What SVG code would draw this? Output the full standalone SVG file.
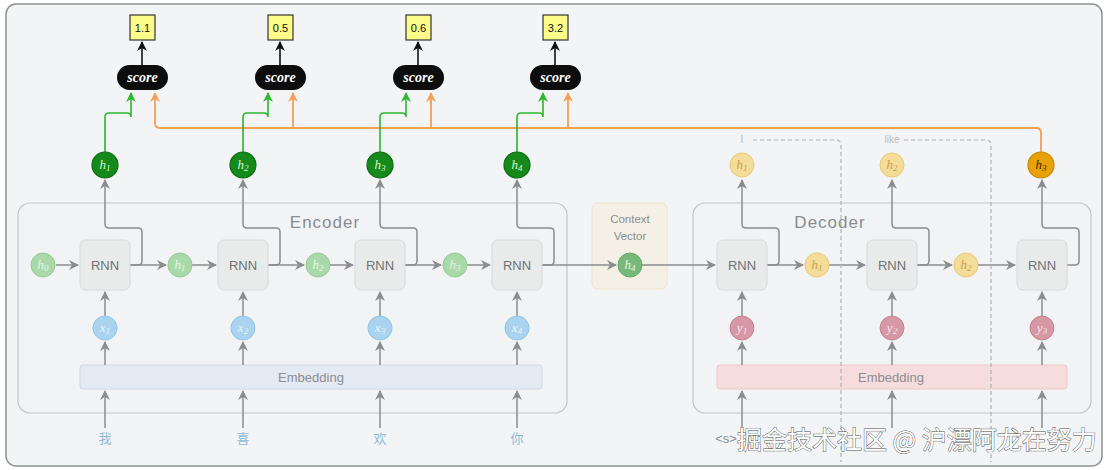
<svg xmlns="http://www.w3.org/2000/svg" width="1108" height="470" viewBox="0 0 1108 470">
<defs>
<marker id="ag" markerUnits="userSpaceOnUse" markerWidth="12" markerHeight="12" refX="9" refY="5" orient="auto"><path d="M0,0 L10,5 L0,10 L3,5 z" fill="#8a8c8e"/></marker>
<marker id="agr" markerUnits="userSpaceOnUse" markerWidth="12" markerHeight="12" refX="9" refY="5" orient="auto"><path d="M0,0 L10,5 L0,10 L3,5 z" fill="#2fb52f"/></marker>
<marker id="aor" markerUnits="userSpaceOnUse" markerWidth="12" markerHeight="12" refX="9" refY="5" orient="auto"><path d="M0,0 L10,5 L0,10 L3,5 z" fill="#f2a055"/></marker>
<marker id="abk" markerUnits="userSpaceOnUse" markerWidth="12" markerHeight="12" refX="9" refY="5" orient="auto"><path d="M0,0 L10,5 L0,10 L3,5 z" fill="#111"/></marker>
<style>
.frame{fill:#f3f4f5;stroke:#8e9193;stroke-width:1.5}
.box{fill:#f1f3f4;stroke:#c3c7ca;stroke-width:1.2}
.lbl{font-family:"Liberation Sans",Arial,sans-serif;fill:#8a8d90}
.rnn{fill:#e8ebea;stroke:#d6dad8;stroke-width:1}
.rnnt{font-family:"Liberation Sans",Arial,sans-serif;font-size:13px;fill:#6f7274;text-anchor:middle}
.ht{font-family:"Liberation Serif","Times New Roman",serif;font-style:italic;font-size:13px;text-anchor:middle}
.hlg{fill:#a9d9a9;stroke:#95cc95;stroke-width:1}
.hdg{fill:#15891a;stroke:#0c6c10;stroke-width:1.2}
.hlo{fill:#f4dc9a;stroke:#ebc875;stroke-width:1}
.hdo{fill:#e9a108;stroke:#c98700;stroke-width:1.2}
.xb{fill:#a9d3ee;stroke:#91c5e5;stroke-width:1}
.yp{fill:#d697a6;stroke:#c98595;stroke-width:1}
.con{fill:none;stroke:#8a8c8e;stroke-width:1.5}
.gr{fill:none;stroke:#2fb52f;stroke-width:1.6}
.or{fill:none;stroke:#f2a055;stroke-width:1.8}
.bk{fill:none;stroke:#111;stroke-width:1.6}
.dash{fill:none;stroke:#adb0b3;stroke-width:1.2;stroke-dasharray:4 3}
.val{fill:#fbfb8a;stroke:#333;stroke-width:1.2}
.valt{font-family:"Liberation Sans",Arial,sans-serif;font-size:11px;fill:#111;text-anchor:middle}
.sc{fill:#0d0d0d}
.sct{font-family:"Liberation Serif","Times New Roman",serif;font-style:italic;font-weight:bold;font-size:14px;fill:#fff;text-anchor:middle}
.word{font-family:"Noto Sans CJK SC","Noto Sans",sans-serif;font-size:13px;fill:#8cbcd9;text-anchor:middle}
</style>
</defs>
<rect x="0" y="0" width="1108" height="470" fill="#ffffff"/>
<rect class="frame" x="6" y="4" width="1096" height="462" rx="10"/>

<g id="encoder"><rect class="box" x="18" y="203" width="549" height="210" rx="12"/><text class="lbl" x="325" y="228" font-size="17" text-anchor="middle" letter-spacing="1">Encoder</text></g>
<g id="context"><rect x="592" y="203" width="75" height="86" rx="6" fill="#f5f0e5" stroke="#ece3cf"/><text class="lbl" x="630" y="223" font-size="11.5" text-anchor="middle">Context</text><text class="lbl" x="630" y="240" font-size="11.5" text-anchor="middle">Vector</text></g>
<g id="decoder"><rect class="box" x="693" y="203" width="398" height="210" rx="12"/><text class="lbl" x="830" y="228" font-size="17" text-anchor="middle" letter-spacing="1">Decoder</text></g>

<g id="enc-embedding"><rect x="80" y="365" width="462" height="24" rx="3" fill="#e4eaf3" stroke="#cfd8e5"/><text class="lbl" x="311" y="382" font-size="13" text-anchor="middle">Embedding</text></g>
<g id="dec-embedding"><rect x="717" y="365" width="350" height="24" rx="3" fill="#f6dcdc" stroke="#efc9c9"/><text class="lbl" x="891" y="382" font-size="13" text-anchor="middle">Embedding</text></g>

<g id="connectors">
<path class="con" d="M56,265 H78" marker-end="url(#ag)"/>
<path class="con" d="M130,265 H166" marker-end="url(#ag)"/>
<path class="con" d="M130,265 H138 Q142,265 142,261 V232 Q142,228 138,228 H109 Q105,228 105,224 V180" marker-end="url(#ag)"/>
<path class="con" d="M192,265 H216" marker-end="url(#ag)"/>
<path class="con" d="M268,265 H304" marker-end="url(#ag)"/>
<path class="con" d="M268,265 H276 Q280,265 280,261 V232 Q280,228 276,228 H247 Q243,228 243,224 V180" marker-end="url(#ag)"/>
<path class="con" d="M330,265 H353" marker-end="url(#ag)"/>
<path class="con" d="M405,265 H441" marker-end="url(#ag)"/>
<path class="con" d="M405,265 H413 Q417,265 417,261 V232 Q417,228 413,228 H384 Q380,228 380,224 V180" marker-end="url(#ag)"/>
<path class="con" d="M467,265 H490" marker-end="url(#ag)"/>
<path class="con" d="M542,265 H616" marker-end="url(#ag)"/>
<path class="con" d="M542,265 H550 Q554,265 554,261 V232 Q554,228 550,228 H521 Q517,228 517,224 V180" marker-end="url(#ag)"/>
<path class="con" d="M642,265 H715" marker-end="url(#ag)"/>
<path class="con" d="M767,265 H803" marker-end="url(#ag)"/>
<path class="con" d="M767,265 H775 Q779,265 779,261 V232 Q779,228 775,228 H746 Q742,228 742,224 V180" marker-end="url(#ag)"/>
<path class="con" d="M829,265 H865" marker-end="url(#ag)"/>
<path class="con" d="M917,265 H952" marker-end="url(#ag)"/>
<path class="con" d="M917,265 H925 Q929,265 929,261 V232 Q929,228 925,228 H896 Q892,228 892,224 V180" marker-end="url(#ag)"/>
<path class="con" d="M978,265 H1015" marker-end="url(#ag)"/>
<path class="con" d="M1067,265 H1075 Q1079,265 1079,261 V232 Q1079,228 1075,228 H1046 Q1042,228 1042,224 V180" marker-end="url(#ag)"/>
<path class="con" d="M105,316 V292" marker-end="url(#ag)"/>
<path class="con" d="M243,316 V292" marker-end="url(#ag)"/>
<path class="con" d="M380,316 V292" marker-end="url(#ag)"/>
<path class="con" d="M517,316 V292" marker-end="url(#ag)"/>
<path class="con" d="M742,316 V292" marker-end="url(#ag)"/>
<path class="con" d="M892,316 V292" marker-end="url(#ag)"/>
<path class="con" d="M1042,316 V292" marker-end="url(#ag)"/>
<path class="con" d="M105,365 V342" marker-end="url(#ag)"/>
<path class="con" d="M243,365 V342" marker-end="url(#ag)"/>
<path class="con" d="M380,365 V342" marker-end="url(#ag)"/>
<path class="con" d="M517,365 V342" marker-end="url(#ag)"/>
<path class="con" d="M742,365 V342" marker-end="url(#ag)"/>
<path class="con" d="M892,365 V342" marker-end="url(#ag)"/>
<path class="con" d="M1042,365 V342" marker-end="url(#ag)"/>
<path class="con" d="M105,428 V391" marker-end="url(#ag)"/>
<path class="con" d="M243,428 V391" marker-end="url(#ag)"/>
<path class="con" d="M380,428 V391" marker-end="url(#ag)"/>
<path class="con" d="M517,428 V391" marker-end="url(#ag)"/>
<path class="con" d="M742,428 V391" marker-end="url(#ag)"/>
<path class="con" d="M892,428 V391" marker-end="url(#ag)"/>
<path class="con" d="M1042,428 V391" marker-end="url(#ag)"/>
<path class="dash" d="M753,140 H836 Q841,140 841,145 V462"/>
<path class="dash" d="M904,140 H986 Q991,140 991,145 V462"/>
<path class="or" d="M1041,152 V133 Q1041,128 1036,128 H160 Q155,128 155,123 V93" marker-end="url(#aor)"/>
<path class="or" d="M293,128 V93" marker-end="url(#aor)"/>
<path class="or" d="M431,128 V93" marker-end="url(#aor)"/>
<path class="or" d="M568,128 V93" marker-end="url(#aor)"/>
<path class="gr" d="M105,152 V117 Q105,113 109,113 H127 Q131,113 131,117 V93" marker-end="url(#agr)"/>
<path class="gr" d="M243,152 V117 Q243,113 247,113 H264 Q268,113 268,117 V93" marker-end="url(#agr)"/>
<path class="gr" d="M380,152 V117 Q380,113 384,113 H402 Q406,113 406,117 V93" marker-end="url(#agr)"/>
<path class="gr" d="M517,152 V117 Q517,113 521,113 H539 Q543,113 543,117 V93" marker-end="url(#agr)"/>
<path class="bk" d="M142,65 V42" marker-end="url(#abk)"/>
<path class="bk" d="M280,65 V42" marker-end="url(#abk)"/>
<path class="bk" d="M418,65 V42" marker-end="url(#abk)"/>
<path class="bk" d="M555,65 V42" marker-end="url(#abk)"/>
</g>

<g id="rnn-e1"><rect class="rnn" x="80" y="240" width="50" height="50" rx="6"/><text class="rnnt" x="105" y="270">RNN</text></g>
<g id="rnn-e2"><rect class="rnn" x="218" y="240" width="50" height="50" rx="6"/><text class="rnnt" x="243" y="270">RNN</text></g>
<g id="rnn-e3"><rect class="rnn" x="355" y="240" width="50" height="50" rx="6"/><text class="rnnt" x="380" y="270">RNN</text></g>
<g id="rnn-e4"><rect class="rnn" x="492" y="240" width="50" height="50" rx="6"/><text class="rnnt" x="517" y="270">RNN</text></g>
<g id="rnn-d1"><rect class="rnn" x="717" y="240" width="50" height="50" rx="6"/><text class="rnnt" x="742" y="270">RNN</text></g>
<g id="rnn-d2"><rect class="rnn" x="867" y="240" width="50" height="50" rx="6"/><text class="rnnt" x="892" y="270">RNN</text></g>
<g id="rnn-d3"><rect class="rnn" x="1017" y="240" width="50" height="50" rx="6"/><text class="rnnt" x="1042" y="270">RNN</text></g>

<g id="h0"><circle class="hlg" cx="43" cy="265" r="12"/><text class="ht" x="43" y="269" fill="#e6f5e6">h<tspan font-size="9" dy="2">0</tspan></text></g>
<g id="he1"><circle class="hlg" cx="180" cy="265" r="12"/><text class="ht" x="180" y="269" fill="#e6f5e6">h<tspan font-size="9" dy="2">1</tspan></text></g>
<g id="he2"><circle class="hlg" cx="318" cy="265" r="12"/><text class="ht" x="318" y="269" fill="#e6f5e6">h<tspan font-size="9" dy="2">2</tspan></text></g>
<g id="he3"><circle class="hlg" cx="455" cy="265" r="12"/><text class="ht" x="455" y="269" fill="#e6f5e6">h<tspan font-size="9" dy="2">3</tspan></text></g>
<g id="hc"><circle cx="630" cy="265" r="12" fill="#76b97a" stroke="#64ab69"/><text class="ht" x="630" y="269" fill="#e6f5e6">h<tspan font-size="9" dy="2">4</tspan></text></g>

<g id="ht1"><circle class="hdg" cx="105" cy="165" r="13"/><text class="ht" x="105" y="169" fill="#d9f5d0">h<tspan font-size="9" dy="2">1</tspan></text></g>
<g id="ht2"><circle class="hdg" cx="243" cy="165" r="13"/><text class="ht" x="243" y="169" fill="#d9f5d0">h<tspan font-size="9" dy="2">2</tspan></text></g>
<g id="ht3"><circle class="hdg" cx="380" cy="165" r="13"/><text class="ht" x="380" y="169" fill="#d9f5d0">h<tspan font-size="9" dy="2">3</tspan></text></g>
<g id="ht4"><circle class="hdg" cx="517" cy="165" r="13"/><text class="ht" x="517" y="169" fill="#d9f5d0">h<tspan font-size="9" dy="2">4</tspan></text></g>

<g id="hd1"><circle class="hlo" cx="817" cy="265" r="12"/><text class="ht" x="817" y="269" fill="#c9a24a">h<tspan font-size="9" dy="2">1</tspan></text></g>
<g id="hd2"><circle class="hlo" cx="966" cy="265" r="12"/><text class="ht" x="966" y="269" fill="#c9a24a">h<tspan font-size="9" dy="2">2</tspan></text></g>
<g id="hdt1"><circle class="hlo" cx="742" cy="165" r="12"/><text class="ht" x="742" y="169" fill="#c9a24a">h<tspan font-size="9" dy="2">1</tspan></text></g>
<g id="hdt2"><circle class="hlo" cx="892" cy="165" r="12"/><text class="ht" x="892" y="169" fill="#c9a24a">h<tspan font-size="9" dy="2">2</tspan></text></g>
<g id="hdt3"><circle class="hdo" cx="1041" cy="165" r="13"/><text class="ht" x="1041" y="169" fill="#3a2a00">h<tspan font-size="9" dy="2">3</tspan></text></g>

<g id="x1"><circle class="xb" cx="105" cy="328" r="12"/><text class="ht" x="105" y="332" fill="#e8f4fb">x<tspan font-size="9" dy="2">1</tspan></text></g>
<g id="x2"><circle class="xb" cx="243" cy="328" r="12"/><text class="ht" x="243" y="332" fill="#e8f4fb">x<tspan font-size="9" dy="2">2</tspan></text></g>
<g id="x3"><circle class="xb" cx="380" cy="328" r="12"/><text class="ht" x="380" y="332" fill="#e8f4fb">x<tspan font-size="9" dy="2">3</tspan></text></g>
<g id="x4"><circle class="xb" cx="517" cy="328" r="12"/><text class="ht" x="517" y="332" fill="#e8f4fb">x<tspan font-size="9" dy="2">4</tspan></text></g>
<g id="y1"><circle class="yp" cx="742" cy="328" r="12"/><text class="ht" x="742" y="332" fill="#f8e4e8">y<tspan font-size="9" dy="2">1</tspan></text></g>
<g id="y2"><circle class="yp" cx="892" cy="328" r="12"/><text class="ht" x="892" y="332" fill="#f8e4e8">y<tspan font-size="9" dy="2">2</tspan></text></g>
<g id="y3"><circle class="yp" cx="1042" cy="328" r="12"/><text class="ht" x="1042" y="332" fill="#f8e4e8">y<tspan font-size="9" dy="2">3</tspan></text></g>

<g id="score1"><rect class="sc" x="117" y="65" width="51" height="25" rx="12.5"/><text class="sct" x="142.5" y="82">score</text></g>
<g id="score2"><rect class="sc" x="255" y="65" width="51" height="25" rx="12.5"/><text class="sct" x="280.5" y="82">score</text></g>
<g id="score3"><rect class="sc" x="393" y="65" width="51" height="25" rx="12.5"/><text class="sct" x="418.5" y="82">score</text></g>
<g id="score4"><rect class="sc" x="530" y="65" width="51" height="25" rx="12.5"/><text class="sct" x="555.5" y="82">score</text></g>

<g id="v1"><rect class="val" x="130" y="15" width="25" height="25"/><text class="valt" x="142.5" y="31.5">1.1</text></g>
<g id="v2"><rect class="val" x="268" y="15" width="25" height="25"/><text class="valt" x="280.5" y="31.5">0.5</text></g>
<g id="v3"><rect class="val" x="406" y="15" width="25" height="25"/><text class="valt" x="418.5" y="31.5">0.6</text></g>
<g id="v4"><rect class="val" x="543" y="15" width="25" height="25"/><text class="valt" x="555.5" y="31.5">3.2</text></g>

<g id="labels">
<text class="lbl" x="742" y="143" font-size="10" text-anchor="middle" style="fill:#b5b8bb">I</text>
<text class="lbl" x="892" y="143" font-size="10" text-anchor="middle" style="fill:#b9bcbf">like</text>
<text class="word" x="105" y="443">我</text>
<text class="word" x="243" y="443">喜</text>
<text class="word" x="380" y="443">欢</text>
<text class="word" x="517" y="443">你</text>
<text class="lbl" x="726" y="443" font-size="13" text-anchor="middle">&lt;s&gt;</text>
<text x="737" y="449" font-family="'Noto Sans CJK SC','Noto Sans',sans-serif" font-size="25" fill="#ffffff" stroke="#505050" stroke-width="0.9" paint-order="stroke">掘金技术社区 @ 沪漂阿龙在努力</text>
</g>
</svg>
